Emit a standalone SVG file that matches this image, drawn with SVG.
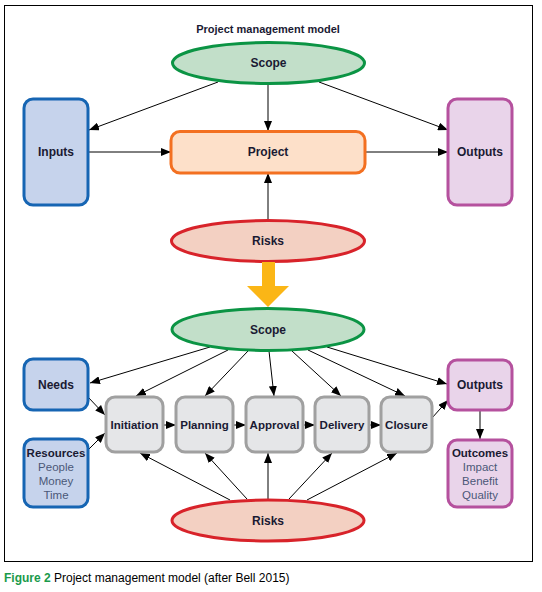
<svg xmlns="http://www.w3.org/2000/svg" width="542" height="592" viewBox="0 0 542 592">
<style>
.lbl{font-family:"Liberation Sans",Arial,sans-serif;font-weight:bold;font-size:12px;fill:#1a1a33;text-anchor:middle}
.sm{font-size:11.5px}
.sub{font-family:"Liberation Sans",Arial,sans-serif;font-size:11.5px;fill:#4b5878;text-anchor:middle}
.scope{fill:#c2dfc9;stroke:#0b9444;stroke-width:3}
.risk{fill:#f3d0c2;stroke:#d8232a;stroke-width:3}
.blue{fill:#c6d3ec;stroke:#1665b3;stroke-width:3}
.orange{fill:#fde0c9;stroke:#f37021;stroke-width:3}
.purple{fill:#e9d4ea;stroke:#b5519e;stroke-width:3}
.grey{fill:#e5e6e8;stroke:#a0a0a0;stroke-width:3}
.con line{stroke:#000;stroke-width:1;marker-end:url(#ah)}
</style>
<defs>
<marker id="ah" viewBox="0 0 10 8" refX="10" refY="4" markerWidth="10" markerHeight="8" markerUnits="userSpaceOnUse" orient="auto">
<path d="M0,0 L10,4 L0,8 z" fill="#000"/>
</marker>
</defs>
<rect x="0" y="0" width="542" height="592" fill="#fff"/>
<rect x="4.5" y="5.5" width="528" height="556" fill="none" stroke="#000" stroke-width="1"/>
<text x="268" y="33" class="lbl" style="font-size:11px">Project management model</text>

<g id="connectors" class="con">
<line x1="218" y1="82" x2="89" y2="130"/>
<line x1="268" y1="84" x2="268" y2="131"/>
<line x1="319" y1="82" x2="448" y2="130"/>
<line x1="88" y1="152" x2="171" y2="152"/>
<line x1="365" y1="152" x2="448" y2="152"/>
<line x1="268" y1="220" x2="268" y2="173"/>

<line x1="210" y1="347" x2="90" y2="383"/>
<line x1="228" y1="350" x2="136" y2="396"/>
<line x1="248" y1="351" x2="205" y2="396"/>
<line x1="269" y1="351" x2="274" y2="396"/>
<line x1="292" y1="351" x2="341" y2="396"/>
<line x1="308" y1="350" x2="405" y2="396"/>
<line x1="327" y1="347" x2="447" y2="384"/>

<line x1="88" y1="397" x2="105" y2="415"/>
<line x1="88" y1="450" x2="105" y2="433"/>
<line x1="164" y1="425" x2="176" y2="425"/>
<line x1="234" y1="425" x2="246" y2="425"/>
<line x1="304" y1="425" x2="315" y2="425"/>
<line x1="370" y1="425" x2="381" y2="425"/>
<line x1="432" y1="418" x2="448" y2="400"/>
<line x1="480" y1="411" x2="480" y2="439"/>

<line x1="230" y1="500" x2="140" y2="453"/>
<line x1="247" y1="499" x2="205" y2="453"/>
<line x1="268" y1="500" x2="268" y2="453"/>
<line x1="289" y1="499" x2="332" y2="453"/>
<line x1="307" y1="500" x2="397" y2="453"/>
</g>

<g id="scope1"><ellipse cx="268.5" cy="63" rx="96" ry="20.5" class="scope"/><text x="268.5" y="67" class="lbl">Scope</text></g>
<g id="inputs"><rect x="24" y="99" width="64" height="106" rx="9" class="blue"/><text x="56" y="156" class="lbl">Inputs</text></g>
<g id="project"><rect x="171" y="131.5" width="194" height="41.5" rx="9" class="orange"/><text x="268" y="156" class="lbl">Project</text></g>
<g id="outputs1"><rect x="448" y="99" width="64" height="106" rx="9" class="purple"/><text x="480" y="156" class="lbl">Outputs</text></g>
<g id="risks1"><ellipse cx="268" cy="241" rx="96.5" ry="20.5" class="risk"/><text x="268" y="245" class="lbl">Risks</text></g>

<g id="bigarrow"><path d="M262,262 H275 V286 H289 L268,307 L247,286 H262 Z" fill="#fbb616"/></g>

<g id="scope2"><ellipse cx="268" cy="329.5" rx="96" ry="21" class="scope"/><text x="268" y="334" class="lbl">Scope</text></g>
<g id="needs"><rect x="24" y="359" width="64" height="51" rx="9" class="blue"/><text x="56" y="389" class="lbl">Needs</text></g>
<g id="resources"><rect x="24" y="439" width="64" height="68" rx="9" class="blue"/>
<text x="56" y="457" class="lbl sm">Resources</text><text x="56" y="471" class="sub">People</text><text x="56" y="485" class="sub">Money</text><text x="56" y="499" class="sub">Time</text></g>
<g id="initiation"><rect x="106" y="397" width="57" height="55" rx="9" class="grey"/><text x="134.5" y="429" class="lbl sm">Initiation</text></g>
<g id="planning"><rect x="176" y="397" width="57" height="55" rx="9" class="grey"/><text x="204.5" y="429" class="lbl sm">Planning</text></g>
<g id="approval"><rect x="246" y="397" width="57" height="55" rx="9" class="grey"/><text x="274.5" y="429" class="lbl sm">Approval</text></g>
<g id="delivery"><rect x="315" y="397" width="54" height="55" rx="9" class="grey"/><text x="342" y="429" class="lbl sm">Delivery</text></g>
<g id="closure"><rect x="381" y="397" width="51" height="55" rx="9" class="grey"/><text x="406.5" y="429" class="lbl sm">Closure</text></g>
<g id="outputs2"><rect x="448" y="360" width="64" height="50" rx="9" class="purple"/><text x="480" y="389" class="lbl">Outputs</text></g>
<g id="outcomes"><rect x="448" y="440" width="64" height="67" rx="9" class="purple"/>
<text x="480" y="457" class="lbl sm">Outcomes</text><text x="480" y="471" class="sub">Impact</text><text x="480" y="485" class="sub">Benefit</text><text x="480" y="499" class="sub">Quality</text></g>
<g id="risks2"><ellipse cx="268" cy="520.5" rx="96" ry="20.5" class="risk"/><text x="268" y="525" class="lbl">Risks</text></g>

<text x="4" y="582" font-family="Liberation Sans,Arial,sans-serif" font-size="12px" fill="#000"><tspan font-weight="bold" fill="#1b9a4a">Figure 2</tspan> Project management model (after Bell 2015)</text>
</svg>
